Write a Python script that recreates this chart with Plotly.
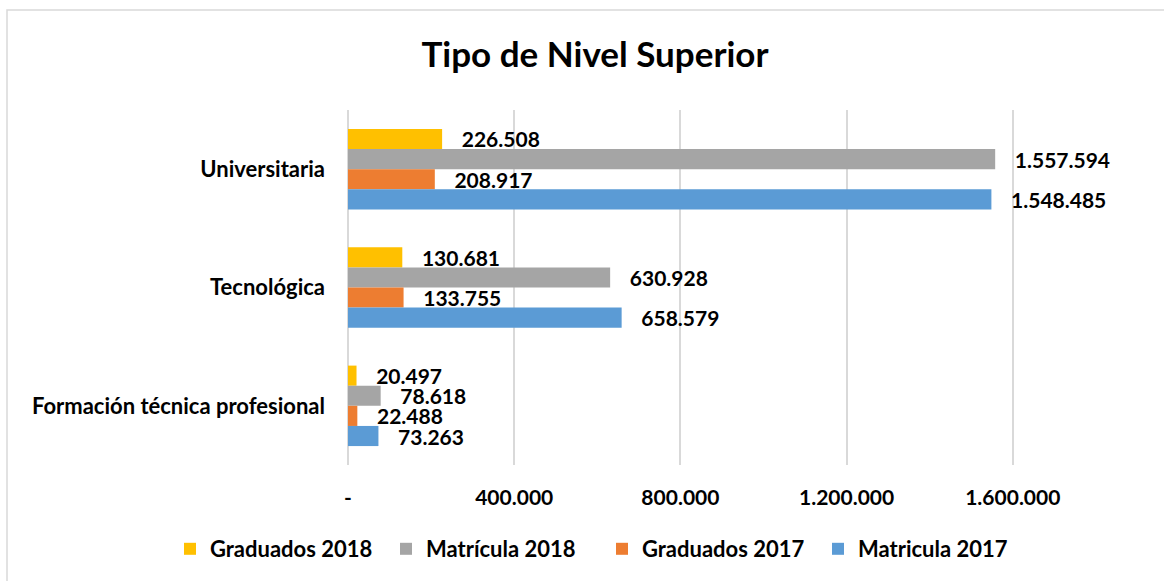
import plotly.graph_objects as go

categories = ["Universitaria", "Tecnológica", "Formación técnica profesional"]
series_names = ["Graduados 2018", "Matrícula 2018", "Graduados 2017", "Matricula 2017"]
graduados_2018 = [226508, 130681, 20497]
matricula_2018 = [1557594, 630928, 78618]
graduados_2017 = [208917, 133755, 22488]
matricula_2017 = [1548485, 658579, 73263]
tick_values = [0, 400000, 800000, 1200000, 1600000]
tick_labels = ["-", "400.000", "800.000", "1.200.000", "1.600.000"]

series_values = [graduados_2018, matricula_2018, graduados_2017, matricula_2017]
colors = ["#FFC000", "#A5A5A5", "#ED7D31", "#5B9BD5"]
LABEL_PAD = "\u00a0\u00a0\u00a0\u200a"

FONT = "Lato"
W, H = 1164, 581
L, R, T, B = 348, 0, 110, 116
PW, PH = W - L - R, H - T - B

def fmt(v):
    return f"{v:,}".replace(",", ".")

fig = go.Figure()
for name, vals, col in zip(series_names, series_values, colors):
    fig.add_trace(go.Bar(
        name=name,
        y=categories,
        x=vals,
        orientation="h",
        marker=dict(color=col, line=dict(width=0)),
        text=[LABEL_PAD + fmt(v) for v in vals],
        textposition="outside",
        textfont=dict(family=FONT, size=21, color="#000000", weight="bold"),
        constraintext="none",
        cliponaxis=False,
        hoverinfo="x+name",
    ))

px_per_unit = 166.2 / 400000
xmax = PW / px_per_unit

fig.update_layout(
    width=W, height=H,
    margin=dict(l=L, r=R, t=T, b=B, pad=0),
    paper_bgcolor="white", plot_bgcolor="white",
    barmode="group", bargap=0.32, bargroupgap=0,
    separators=",.",
    title=dict(text="<b>Tipo de Nivel Superior</b>", x=595 / W, xref="container", xanchor="center",
               y=1 - 55 / H, yref="container", yanchor="middle",
               font=dict(family=FONT, size=35, color="#000000")),
    font=dict(family=FONT, color="#000000"),
    legend=dict(orientation="h", x=(170 - L) / PW, xanchor="left",
                y=-(549 - (H - B)) / PH, yanchor="middle",
                font=dict(family=FONT, size=22, color="#000000", weight="bold"),
                traceorder="normal", itemwidth=30, entrywidth=171, entrywidthmode="pixels",
                bgcolor="rgba(0,0,0,0)"),
    xaxis=dict(range=[0, xmax], tickvals=tick_values, ticktext=tick_labels,
               showgrid=True, gridcolor="#D9D9D9", gridwidth=1.5,
               zeroline=True, zerolinecolor="#D9D9D9", zerolinewidth=1.5,
               showline=False, ticks="", ticklabelstandoff=18,
               tickfont=dict(family=FONT, size=21, color="#000000", weight="bold")),
    yaxis=dict(autorange="reversed", showgrid=False, zeroline=False, showline=False,
               ticks="", ticklabelstandoff=22,
               tickfont=dict(family=FONT, size=22, color="#000000", weight="bold")),
    shapes=[dict(type="rect", xref="paper", yref="paper",
                 x0=(7 - L) / PW, x1=(W + 5 - L) / PW,
                 y0=-(H + 5 - (H - B)) / PH, y1=1 + (T - 10) / PH,
                 line=dict(color="#D9D9D9", width=1.5), fillcolor="rgba(0,0,0,0)", layer="below")],
)

fig.write_html("out.html", config={"displayModeBar": False},
               post_script="document.body.style.margin='0';document.body.style.overflow='hidden';")
